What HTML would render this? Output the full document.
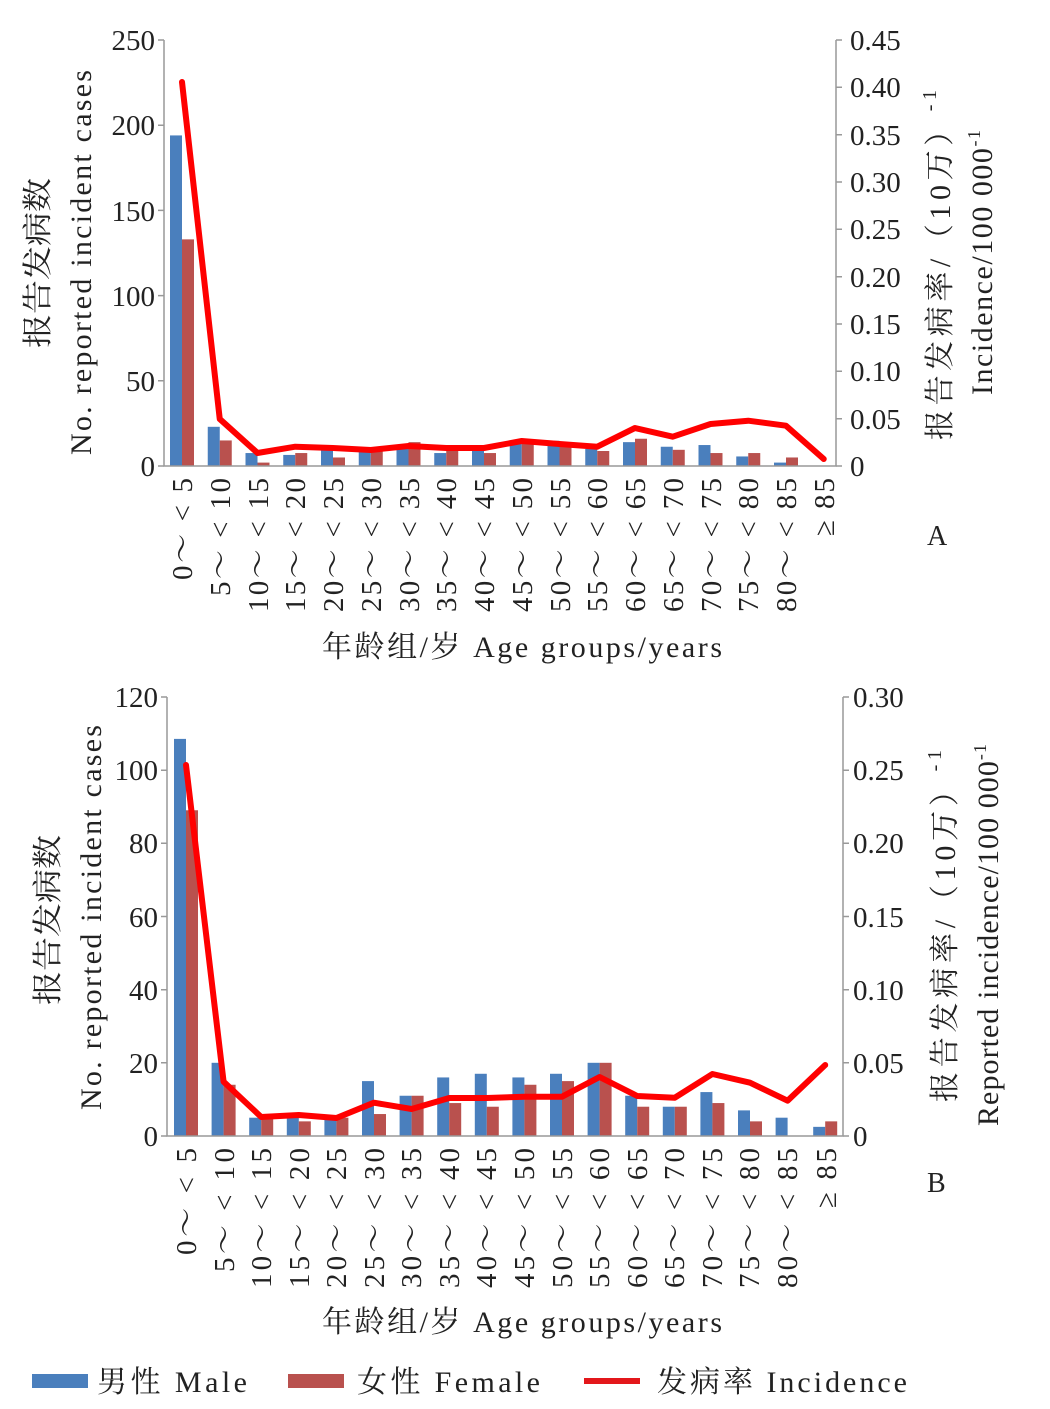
<!DOCTYPE html>
<html><head><meta charset="utf-8">
<style>
html,body{margin:0;padding:0;background:#fff;}
svg{display:block;}
text{font-family:"Liberation Serif","Noto Serif CJK SC",serif;fill:#222;}
</style></head>
<body>
<svg id="s" width="1050" height="1409" viewBox="0 0 1050 1409" xmlns="http://www.w3.org/2000/svg">
<g id="bars"></g>
<g stroke="#999" stroke-width="1.5" fill="none">
<path d="M164,40 V466 H836 V40"/>
<path d="M158,466H164M158,380.8H164M158,295.6H164M158,210.4H164M158,125.2H164M158,40H164"/>
<path d="M836,466h6M836,418.7h6M836,371.3h6M836,324h6M836,276.7h6M836,229.3h6M836,182h6M836,134.7h6M836,87.3h6M836,40h6"/>
<path d="M167,697 V1136 H843 V697"/>
<path d="M161,1136h6M161,1062.8h6M161,989.7h6M161,916.5h6M161,843.3h6M161,770.2h6M161,697h6"/>
<path d="M843,1136h6M843,1062.8h6M843,989.7h6M843,916.5h6M843,843.3h6M843,770.2h6M843,697h6"/>
</g>
<g font-size="29" text-anchor="end">
<text x="155" y="476">0</text><text x="155" y="391">50</text><text x="155" y="306">100</text><text x="155" y="221">150</text><text x="155" y="135">200</text><text x="155" y="50">250</text>
<text x="158" y="1146">0</text><text x="158" y="1073">20</text><text x="158" y="1000">40</text><text x="158" y="927">60</text><text x="158" y="853">80</text><text x="158" y="780">100</text><text x="158" y="707">120</text>
</g>
<g font-size="29">
<text x="850" y="476">0</text><text x="850" y="429">0.05</text><text x="850" y="381">0.10</text><text x="850" y="334">0.15</text><text x="850" y="287">0.20</text><text x="850" y="239">0.25</text><text x="850" y="192">0.30</text><text x="850" y="145">0.35</text><text x="850" y="97">0.40</text><text x="850" y="50">0.45</text>
<text x="853" y="1146">0</text><text x="853" y="1073">0.05</text><text x="853" y="1000">0.10</text><text x="853" y="927">0.15</text><text x="853" y="853">0.20</text><text x="853" y="780">0.25</text><text x="853" y="707">0.30</text>
</g>
<g font-size="29" text-anchor="end" lengthAdjust="spacing">
<text transform="translate(192,478) rotate(-90)" textLength="102">0～ &lt; 5</text>
<text transform="translate(230,478) rotate(-90)" textLength="118">5～ &lt; 10</text>
<text transform="translate(268,478) rotate(-90)" textLength="134">10～ &lt; 15</text>
<text transform="translate(305,478) rotate(-90)" textLength="134">15～ &lt; 20</text>
<text transform="translate(343,478) rotate(-90)" textLength="134">20～ &lt; 25</text>
<text transform="translate(381,478) rotate(-90)" textLength="134">25～ &lt; 30</text>
<text transform="translate(419,478) rotate(-90)" textLength="134">30～ &lt; 35</text>
<text transform="translate(456,478) rotate(-90)" textLength="134">35～ &lt; 40</text>
<text transform="translate(494,478) rotate(-90)" textLength="134">40～ &lt; 45</text>
<text transform="translate(532,478) rotate(-90)" textLength="134">45～ &lt; 50</text>
<text transform="translate(570,478) rotate(-90)" textLength="134">50～ &lt; 55</text>
<text transform="translate(607,478) rotate(-90)" textLength="134">55～ &lt; 60</text>
<text transform="translate(645,478) rotate(-90)" textLength="134">60～ &lt; 65</text>
<text transform="translate(683,478) rotate(-90)" textLength="134">65～ &lt; 70</text>
<text transform="translate(721,478) rotate(-90)" textLength="134">70～ &lt; 75</text>
<text transform="translate(758,478) rotate(-90)" textLength="134">75～ &lt; 80</text>
<text transform="translate(796,478) rotate(-90)" textLength="134">80～ &lt; 85</text>
<text transform="translate(834,478) rotate(-90)" textLength="58">≥ 85</text>
</g>
<g font-size="29" text-anchor="end" lengthAdjust="spacing">
<text transform="translate(196,1148) rotate(-90)" textLength="107">0～ &lt; 5</text>
<text transform="translate(234,1148) rotate(-90)" textLength="124">5～ &lt; 10</text>
<text transform="translate(271,1148) rotate(-90)" textLength="140">10～ &lt; 15</text>
<text transform="translate(309,1148) rotate(-90)" textLength="140">15～ &lt; 20</text>
<text transform="translate(346,1148) rotate(-90)" textLength="140">20～ &lt; 25</text>
<text transform="translate(384,1148) rotate(-90)" textLength="140">25～ &lt; 30</text>
<text transform="translate(421,1148) rotate(-90)" textLength="140">30～ &lt; 35</text>
<text transform="translate(459,1148) rotate(-90)" textLength="140">35～ &lt; 40</text>
<text transform="translate(496,1148) rotate(-90)" textLength="140">40～ &lt; 45</text>
<text transform="translate(534,1148) rotate(-90)" textLength="140">45～ &lt; 50</text>
<text transform="translate(572,1148) rotate(-90)" textLength="140">50～ &lt; 55</text>
<text transform="translate(609,1148) rotate(-90)" textLength="140">55～ &lt; 60</text>
<text transform="translate(647,1148) rotate(-90)" textLength="140">60～ &lt; 65</text>
<text transform="translate(684,1148) rotate(-90)" textLength="140">65～ &lt; 70</text>
<text transform="translate(722,1148) rotate(-90)" textLength="140">70～ &lt; 75</text>
<text transform="translate(759,1148) rotate(-90)" textLength="140">75～ &lt; 80</text>
<text transform="translate(797,1148) rotate(-90)" textLength="140">80～ &lt; 85</text>
<text transform="translate(836,1148) rotate(-90)" textLength="60">≥ 85</text>
</g>
<g font-size="30">
<text transform="translate(48,348) rotate(-90)" textLength="170" lengthAdjust="spacingAndGlyphs">报告发病数</text>
<text transform="translate(91,455) rotate(-90)" textLength="385" lengthAdjust="spacing">No.  reported  incident  cases</text>
<text transform="translate(950,440) rotate(-90)" textLength="350" lengthAdjust="spacing">报告发病率/（10万）<tspan dy="-14" font-size="20">-1</tspan></text>
<text transform="translate(992,395) rotate(-90)" textLength="265" lengthAdjust="spacing">Incidence/100 000<tspan dy="-12" font-size="18">-1</tspan></text>
<text transform="translate(58,1005) rotate(-90)" textLength="170" lengthAdjust="spacingAndGlyphs">报告发病数</text>
<text transform="translate(101,1110) rotate(-90)" textLength="385" lengthAdjust="spacing">No.  reported  incident  cases</text>
<text transform="translate(955,1102) rotate(-90)" textLength="352" lengthAdjust="spacing">报告发病率/（10万）<tspan dy="-14" font-size="20">-1</tspan></text>
<text transform="translate(998,1126) rotate(-90)" textLength="382" lengthAdjust="spacing">Reported  incidence/100 000<tspan dy="-12" font-size="18">-1</tspan></text>
<text x="322" y="657" textLength="400" lengthAdjust="spacing">年龄组/岁  Age  groups/years</text>
<text x="322" y="1332" textLength="400" lengthAdjust="spacing">年龄组/岁  Age  groups/years</text>
<text x="927" y="545" font-size="28">A</text>
<text x="927" y="1192" font-size="28">B</text>
</g>
<rect x="32" y="1374" width="56" height="14" fill="#4a7fbd"/>
<rect x="288" y="1374" width="56" height="14" fill="#b9514e"/>
<rect x="584" y="1378" width="56" height="6" fill="#e3171b"/>
<g font-size="30" lengthAdjust="spacing">
<text x="97" y="1392" textLength="150">男性  Male</text>
<text x="357" y="1392" textLength="183">女性  Female</text>
<text x="657" y="1392" textLength="250">发病率  Incidence</text>
</g>
<g id="lines"></g>
</svg>
<script>
(function(){
var ns="http://www.w3.org/2000/svg";
var bars=document.getElementById('bars'),lines=document.getElementById('lines');
function rect(x,y,w,h,c){var r=document.createElementNS(ns,'rect');r.setAttribute('x',x);r.setAttribute('y',y);r.setAttribute('width',w);r.setAttribute('height',h);r.setAttribute('fill',c);bars.appendChild(r);}
function chart(x0,dx,y0,sc,m,f,ly){
 var pts=[];
 for(var i=0;i<18;i++){var cx=x0+dx*i;
  if(m[i]>0)rect(cx-12,y0-m[i]*sc,12,m[i]*sc,'#4a7fbd');
  if(f[i]>0)rect(cx,y0-f[i]*sc,12,f[i]*sc,'#b9514e');
  pts.push(cx+','+ly[i]);}
 var p=document.createElementNS(ns,'polyline');p.setAttribute('points',pts.join(' '));
 p.setAttribute('fill','none');p.setAttribute('stroke','#f00');p.setAttribute('stroke-width','6');p.setAttribute('stroke-linejoin','round');p.setAttribute('stroke-linecap','round');lines.appendChild(p);
}
chart(182,37.75,466,1.704,
 [194,23,7.6,6.5,12,10,12,7.6,10,13,14.8,10,14,11.3,12.3,5.6,2,0],
 [133,15,2,7.6,5,10,14,11,7.6,13,12,8.8,16,9.5,7.6,7.6,5,0],
 [82,419,453,446.7,448,450,446,448,448,441,444,446.7,428,436.7,424,420.7,425.7,459]);
chart(186,37.6,1136,3.66,
 [108.5,20,5,5,5,15,11,16,17,16,17,20,11,8,12,7,5,2.5],
 [89,14,5,4,5,6,11,9,8,14,15,20,8,8,9,4,0,4],
 [765,1081.7,1117,1115,1118,1102.7,1109,1098,1098,1096.7,1096.7,1077,1096,1097.7,1074,1082.7,1100.7,1065]);
})();
</script>
</body></html>
